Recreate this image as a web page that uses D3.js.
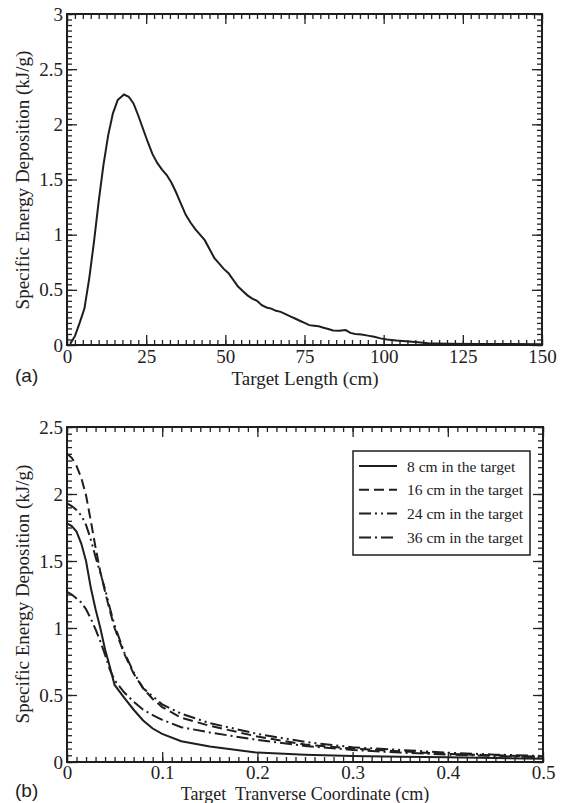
<!DOCTYPE html>
<html lang="en">
<head>
<meta charset="UTF-8">
<title>Specific Energy Deposition</title>
<style>
    body { margin: 0; background: #fff; }
    .tick text { font-family: "Liberation Serif", serif; font-size: 19px; fill: #222; }
    .tick line { stroke: #222; stroke-width: 1.3; }
</style>
<script src="https://d3js.org/d3.v7.min.js"></script>
</head>
<body>
<svg id="chart" width="570" height="803"></svg>
<script>
// (a) deposition along the target
var lengthCm = [1, 2.5, 4, 5.5, 7, 8.5, 10, 11.5, 13, 14.5, 16, 18, 19.5, 21, 22.5, 24, 25.5, 27, 28.5, 30,
    31.5, 33, 34.5, 36, 37.5, 39, 40.5, 42, 43.5, 45, 46.5, 48, 49.5, 51, 52.5, 54, 55.5, 57, 58.5, 60,
    61.5, 63, 64.5, 66, 67.5, 69, 70.5, 72, 73.5, 75, 76.5, 78, 79.5, 81, 82.5, 84, 86, 88, 89.5, 91,
    93, 95, 97, 99, 101, 104, 107, 110, 114, 120, 130, 140, 150];
var depositionA = [0.01, 0.08, 0.2, 0.33, 0.6, 0.93, 1.3, 1.63, 1.9, 2.1, 2.22, 2.27, 2.25, 2.19, 2.08, 1.96, 1.84, 1.73, 1.65, 1.59,
    1.54, 1.47, 1.38, 1.28, 1.18, 1.11, 1.05, 1.0, 0.95, 0.87, 0.79, 0.74, 0.69, 0.65, 0.59, 0.53, 0.49, 0.45, 0.42, 0.4,
    0.36, 0.34, 0.33, 0.31, 0.3, 0.28, 0.26, 0.24, 0.22, 0.2, 0.18, 0.175, 0.17, 0.157, 0.145, 0.132, 0.13, 0.135, 0.11, 0.1,
    0.095, 0.085, 0.075, 0.06, 0.05, 0.04, 0.035, 0.028, 0.015, 0.012, 0.01, 0.008, 0.006];

// (b) transverse profiles
var coordX = [0, 0.005, 0.01, 0.015, 0.02, 0.025, 0.03, 0.035, 0.04, 0.045, 0.05, 0.06, 0.07, 0.08, 0.09, 0.1,
    0.12, 0.15, 0.2, 0.25, 0.3, 0.35, 0.4, 0.45, 0.5];
var dep8 = [1.78, 1.76, 1.72, 1.63, 1.50, 1.30, 1.14, 1.00, 0.84, 0.71, 0.575, 0.48, 0.39, 0.31, 0.25, 0.21,
    0.155, 0.115, 0.07, 0.055, 0.045, 0.04, 0.035, 0.03, 0.025];
var dep16 = [2.30, 2.27, 2.21, 2.12, 1.99, 1.80, 1.60, 1.42, 1.27, 1.13, 1.00, 0.81, 0.66, 0.55, 0.47, 0.41,
    0.33, 0.27, 0.19, 0.13, 0.10, 0.08, 0.06, 0.05, 0.04];
var dep24 = [1.93, 1.91, 1.88, 1.84, 1.77, 1.66, 1.53, 1.41, 1.29, 1.15, 1.02, 0.82, 0.67, 0.55, 0.49, 0.43,
    0.36, 0.29, 0.21, 0.15, 0.11, 0.09, 0.07, 0.055, 0.045];
var dep36 = [1.27, 1.25, 1.22, 1.19, 1.14, 1.07, 0.99, 0.90, 0.80, 0.69, 0.61, 0.52, 0.45, 0.39, 0.35, 0.315,
    0.26, 0.22, 0.165, 0.12, 0.09, 0.07, 0.055, 0.045, 0.035];
var seriesNames = ["8 cm in the target", "16 cm in the target", "24 cm in the target", "36 cm in the target"];
var seriesDash = ["none", "10,5", "12,4,2,4,2,4", "12,4,2,4"];

var svg = d3.select("#chart");
var ink = "#1e1e1e";

function fmt(d) { return String(+d.toFixed(2)); }

// draws a framed panel with inward ticks on all four sides
function drawPanel(box, xDom, yDom, xStep, yStep, xMinor, yMinor, xPad) {
    var x = d3.scaleLinear().domain(xDom).range([box.left, box.right]);
    var y = d3.scaleLinear().domain(yDom).range([box.bottom, box.top]);
    var xMaj = d3.range(xDom[0], xDom[1] + xStep / 2, xStep);
    var yMaj = d3.range(yDom[0], yDom[1] + yStep / 2, yStep);
    var xMin = d3.range(xDom[0], xDom[1] + xMinor / 2, xMinor);
    var yMin = d3.range(yDom[0], yDom[1] + yMinor / 2, yMinor);

    var g = svg.append("g");
    function addAxis(axis, tx, ty) {
        var a = g.append("g").attr("transform", "translate(" + tx + "," + ty + ")").call(axis);
        a.select(".domain").remove();
        return a;
    }
    // minor ticks
    addAxis(d3.axisBottom(x).tickValues(xMin).tickSize(-5).tickSizeOuter(0).tickFormat(""), 0, box.bottom);
    addAxis(d3.axisTop(x).tickValues(xMin).tickSize(-5).tickSizeOuter(0).tickFormat(""), 0, box.top);
    addAxis(d3.axisLeft(y).tickValues(yMin).tickSize(-5).tickSizeOuter(0).tickFormat(""), box.left, 0);
    addAxis(d3.axisRight(y).tickValues(yMin).tickSize(-5).tickSizeOuter(0).tickFormat(""), box.right, 0);
    // major ticks
    addAxis(d3.axisBottom(x).tickValues(xMaj).tickSize(-10).tickSizeOuter(0).tickPadding(xPad).tickFormat(fmt), 0, box.bottom);
    addAxis(d3.axisTop(x).tickValues(xMaj).tickSize(-10).tickSizeOuter(0).tickFormat(""), 0, box.top);
    addAxis(d3.axisLeft(y).tickValues(yMaj).tickSize(-10).tickSizeOuter(0).tickPadding(4).tickFormat(fmt), box.left, 0);
    addAxis(d3.axisRight(y).tickValues(yMaj).tickSize(-10).tickSizeOuter(0).tickFormat(""), box.right, 0);

    g.append("rect")
        .attr("x", box.left).attr("y", box.top)
        .attr("width", box.right - box.left).attr("height", box.bottom - box.top)
        .attr("fill", "none").attr("stroke", ink).attr("stroke-width", 2);

    return { x: x, y: y, g: g };
}

function serifText(x, y, txt, size, rotate) {
    var t = svg.append("text")
        .attr("font-family", "'Liberation Serif', serif")
        .attr("font-size", size)
        .attr("fill", "#222")
        .attr("text-anchor", "middle")
        .text(txt);
    if (rotate) t.attr("transform", "translate(" + x + "," + y + ") rotate(-90)");
    else t.attr("x", x).attr("y", y);
    return t;
}

// ---- panel (a)
var boxA = { left: 67, right: 542, top: 14, bottom: 345 };
var pa = drawPanel(boxA, [0, 150], [0, 3], 25, 0.5, 2.5, 0.05, 5);
var dataA = lengthCm.map(function (d, i) { return [d, depositionA[i]]; });
pa.g.append("path")
    .datum(dataA)
    .attr("fill", "none")
    .attr("stroke", ink)
    .attr("stroke-width", 2)
    .attr("d", d3.line().x(function (d) { return pa.x(d[0]); }).y(function (d) { return pa.y(d[1]); }));

serifText(305, 385, "Target Length (cm)", 19);
serifText(29, 180, "Specific Energy Deposition (kJ/g)", 19, true);
svg.append("text").attr("x", 15).attr("y", 382)
    .attr("font-family", "'Liberation Sans', Arial, sans-serif").attr("font-size", 19).attr("fill", "#222")
    .text("(a)");

// ---- panel (b)
var boxB = { left: 67, right: 543, top: 427, bottom: 762 };
var pb = drawPanel(boxB, [0, 0.5], [0, 2.5], 0.1, 0.5, 0.01, 0.05, 3);
var seriesB = [dep8, dep16, dep24, dep36];
var lineB = d3.line().x(function (d) { return pb.x(d[0]); }).y(function (d) { return pb.y(d[1]); });
seriesB.forEach(function (vals, k) {
    pb.g.append("path")
        .datum(coordX.map(function (c, i) { return [c, vals[i]]; }))
        .attr("fill", "none")
        .attr("stroke", ink)
        .attr("stroke-width", 2)
        .attr("stroke-dasharray", seriesDash[k])
        .attr("d", lineB);
});

// legend
var leg = svg.append("g");
leg.append("rect")
    .attr("x", 353).attr("y", 451).attr("width", 177).attr("height", 104)
    .attr("fill", "#fff").attr("stroke", ink).attr("stroke-width", 1.5);
seriesNames.forEach(function (name, k) {
    var yy = 466 + k * 23.8;
    leg.append("line")
        .attr("x1", 359).attr("x2", 397).attr("y1", yy).attr("y2", yy)
        .attr("stroke", ink).attr("stroke-width", 2)
        .attr("stroke-dasharray", seriesDash[k]);
    leg.append("text")
        .attr("x", 407).attr("y", yy + 5.5)
        .attr("font-family", "'Liberation Serif', serif").attr("font-size", 15.5).attr("fill", "#222")
        .text(name);
});

serifText(305, 800, "Target\u00a0 Tranverse Coordinate (cm)", 18);
serifText(29, 594, "Specific Energy Deposition (kJ/g)", 19, true);
svg.append("text").attr("x", 15).attr("y", 797)
    .attr("font-family", "'Liberation Sans', Arial, sans-serif").attr("font-size", 19).attr("fill", "#222")
    .text("(b)");
</script>
</body>
</html>
